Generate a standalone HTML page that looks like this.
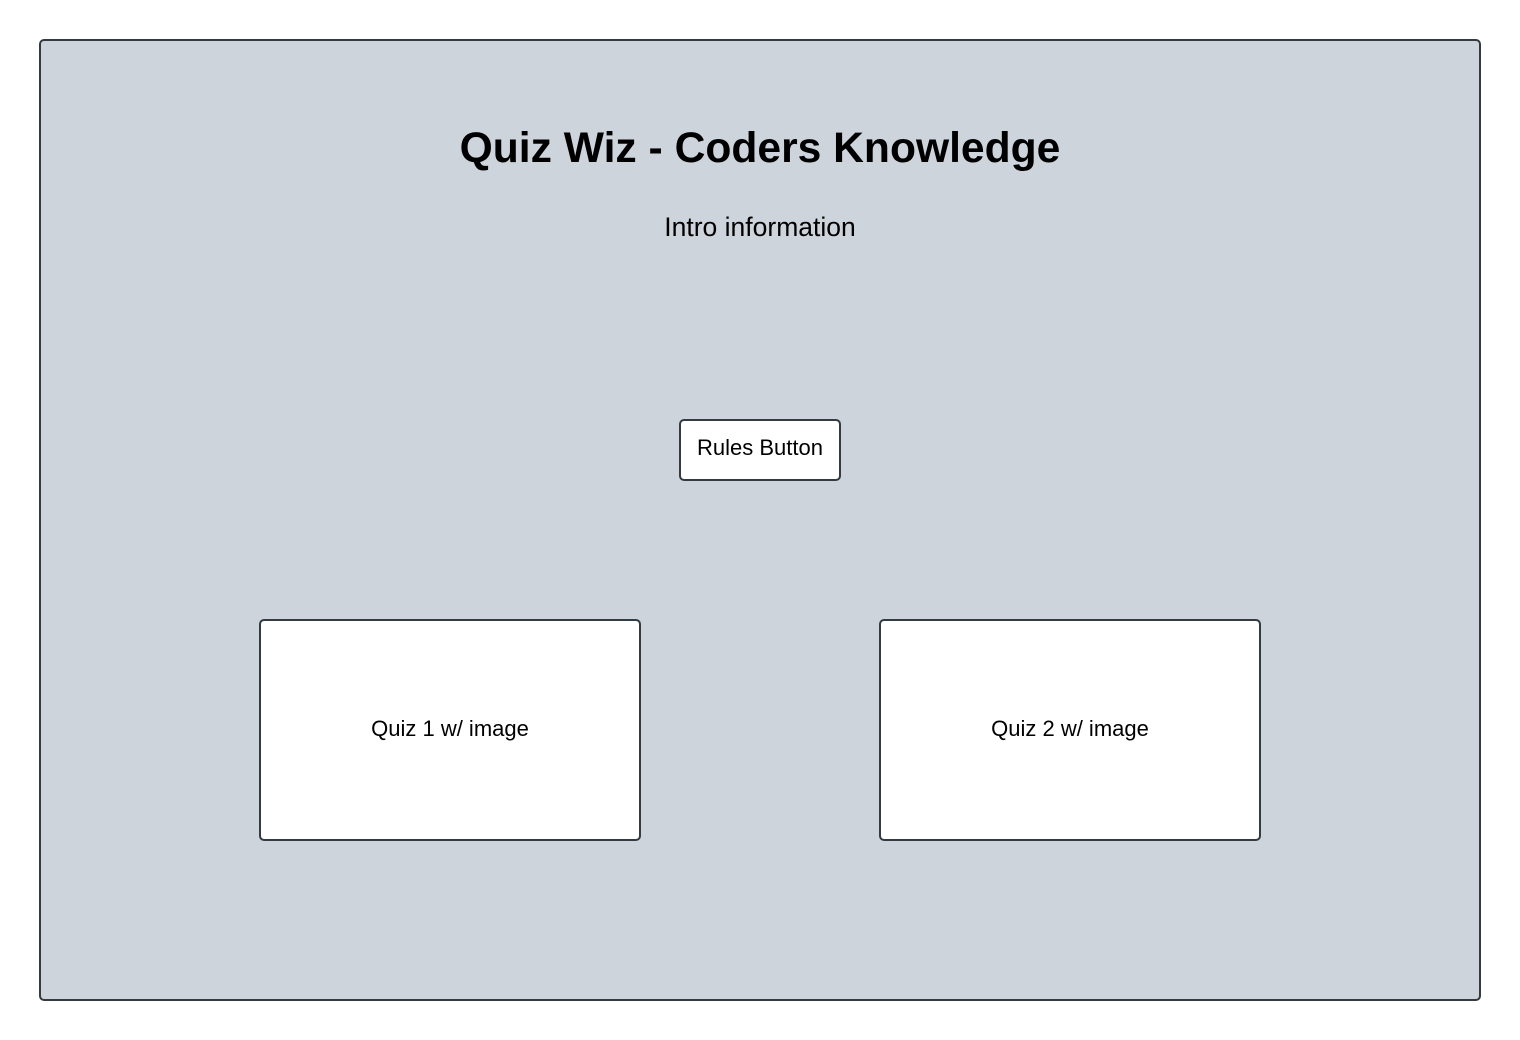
<!DOCTYPE html>
<html><head><meta charset="utf-8"><style>
html,body{margin:0;padding:0;background:#fff;width:1520px;height:1040px;overflow:hidden}
</style></head><body>
<svg width="1520" height="1040" viewBox="0 0 1520 1040" xmlns="http://www.w3.org/2000/svg" font-family="Liberation Sans, Arial, sans-serif">
<rect x="40" y="40" width="1440" height="960" rx="4" fill="#ced4dc" stroke="#333a40" stroke-width="2"/>
<text x="760" y="162" text-anchor="middle" font-size="42.6" font-weight="bold" fill="#000">Quiz Wiz - Coders Knowledge</text>
<text x="760" y="236" text-anchor="middle" font-size="26.5" fill="#000">Intro information</text>
<rect x="680" y="420" width="160" height="60" rx="4" fill="#fff" stroke="#333a40" stroke-width="2"/>
<text x="760" y="455" text-anchor="middle" font-size="22" fill="#000">Rules Button</text>
<rect x="260" y="620" width="380" height="220" rx="4" fill="#fff" stroke="#333a40" stroke-width="2"/>
<text x="450" y="736" text-anchor="middle" font-size="22" fill="#000">Quiz 1 w/ image</text>
<rect x="880" y="620" width="380" height="220" rx="4" fill="#fff" stroke="#333a40" stroke-width="2"/>
<text x="1070" y="736" text-anchor="middle" font-size="22" fill="#000">Quiz 2 w/ image</text>
</svg>
</body></html>
